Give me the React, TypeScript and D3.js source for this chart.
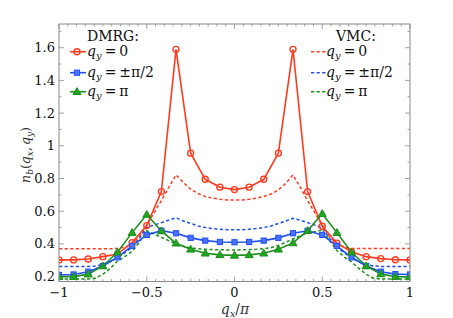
import * as d3 from 'd3'

// DMRG momentum grid (q_x / pi)
const qxDmrg = [
  -1, -0.9167, -0.8333, -0.75, -0.6667, -0.5833, -0.5, -0.4167, -0.3333, -0.25, -0.1667, -0.0833, 0,
  0.0833, 0.1667, 0.25, 0.3333, 0.4167, 0.5, 0.5833, 0.6667, 0.75, 0.8333, 0.9167, 1,
]

const dmrgQy0 = [
  0.302, 0.302, 0.308, 0.322, 0.338, 0.408, 0.512, 0.72, 1.59, 0.955, 0.795, 0.747, 0.732,
  0.747, 0.795, 0.955, 1.59, 0.72, 0.508, 0.405, 0.352, 0.322, 0.31, 0.303, 0.302,
]
const dmrgQyHalf = [
  0.21, 0.213, 0.23, 0.265, 0.318, 0.388, 0.455, 0.481, 0.465, 0.437, 0.42, 0.412, 0.41,
  0.412, 0.42, 0.437, 0.465, 0.48, 0.455, 0.388, 0.318, 0.265, 0.23, 0.215, 0.213,
]
const dmrgQyPi = [
  0.2, 0.2, 0.215, 0.265, 0.349, 0.469, 0.58, 0.479, 0.404, 0.367, 0.343, 0.333, 0.33,
  0.333, 0.343, 0.367, 0.406, 0.481, 0.585, 0.469, 0.349, 0.265, 0.216, 0.2, 0.198,
]

// VMC curves on a finer grid (step 1/24)
const qxVmc = [
  -1, -0.9583, -0.9167, -0.875, -0.8333, -0.7917, -0.75, -0.7083, -0.6667, -0.625, -0.5833, -0.5417,
  -0.5, -0.4583, -0.4167, -0.375, -0.3333, -0.2917, -0.25, -0.2083, -0.1667, -0.125, -0.0833, -0.0417,
  0, 0.0417, 0.0833, 0.125, 0.1667, 0.2083, 0.25, 0.2917, 0.3333, 0.375, 0.4167, 0.4583,
  0.5, 0.5417, 0.5833, 0.625, 0.6667, 0.7083, 0.75, 0.7917, 0.8333, 0.875, 0.9167, 0.9583, 1,
]
const vmcQy0 = [
  0.37, 0.37, 0.37, 0.37, 0.37, 0.37, 0.37, 0.37, 0.372, 0.38, 0.4, 0.445,
  0.515, 0.59, 0.665, 0.745, 0.822, 0.775, 0.735, 0.708, 0.69, 0.68, 0.673, 0.669,
  0.668, 0.669, 0.673, 0.68, 0.69, 0.705, 0.73, 0.77, 0.822, 0.745, 0.665, 0.59,
  0.515, 0.445, 0.4, 0.38, 0.373, 0.372, 0.372, 0.372, 0.372, 0.372, 0.372, 0.372, 0.372,
]
const vmcQyHalf = [
  0.262, 0.262, 0.262, 0.262, 0.262, 0.265, 0.275, 0.29, 0.315, 0.345, 0.38, 0.435,
  0.5, 0.515, 0.53, 0.545, 0.56, 0.54, 0.525, 0.51, 0.5, 0.494, 0.49, 0.487,
  0.486, 0.487, 0.49, 0.494, 0.5, 0.51, 0.525, 0.54, 0.557, 0.545, 0.53, 0.515,
  0.498, 0.435, 0.38, 0.345, 0.315, 0.29, 0.275, 0.265, 0.262, 0.262, 0.262, 0.262, 0.262,
]
const vmcQyPi = [
  0.185, 0.185, 0.185, 0.185, 0.185, 0.19, 0.215, 0.25, 0.295, 0.322, 0.355, 0.41,
  0.48, 0.46, 0.44, 0.42, 0.4, 0.385, 0.375, 0.37, 0.367, 0.365, 0.364, 0.363,
  0.363, 0.364, 0.365, 0.367, 0.37, 0.378, 0.39, 0.41, 0.43, 0.45, 0.465, 0.475,
  0.485, 0.42, 0.36, 0.32, 0.29, 0.25, 0.215, 0.19, 0.185, 0.185, 0.185, 0.185, 0.185,
]

const xTicks = [-1, -0.5, 0, 0.5, 1]
const xTickLabels = ['\u22121', '\u22120.5', '0', '0.5', '1']
const yTicks = [0.2, 0.4, 0.6, 0.8, 1, 1.2, 1.4, 1.6]
const yTickLabels = ['0.2', '0.4', '0.6', '0.8', '1', '1.2', '1.4', '1.6']

const RED = '#ff3b1f'
const BLUE = '#2250f0'
const GREEN = '#1b8f1b'
const FRAME = '#8a8a8a'
const SERIF = { fontFamily: "'DejaVu Serif', serif" }

const W = 453
const H = 318
const plot = { left: 59, right: 410, top: 24, bottom: 281.5 }

const x = d3.scaleLinear().domain([-1, 1]).range([plot.left, plot.right])
const y = d3.scaleLinear().domain([0.17, 1.745]).range([plot.bottom, plot.top])

function linePath(xs: number[], ys: number[]) {
  const pts = xs.map((q, i) => [q, ys[i]] as [number, number])
  return d3
    .line<[number, number]>()
    .x((d) => x(d[0]))
    .y((d) => y(d[1]))(pts) as string
}

function Circle({ cx, cy }: { cx: number; cy: number }) {
  return <circle cx={cx} cy={cy} r={3} fill="none" stroke={RED} strokeWidth={1.4} />
}
function Square({ cx, cy }: { cx: number; cy: number }) {
  return (
    <rect x={cx - 2.6} y={cy - 2.6} width={5.2} height={5.2} fill="#4a72ff" stroke={BLUE} strokeWidth={1} />
  )
}
function Triangle({ cx, cy }: { cx: number; cy: number }) {
  const s = 4
  return (
    <path
      d={`M${cx},${cy - s}L${cx + s},${cy + s * 0.7}L${cx - s},${cy + s * 0.7}Z`}
      fill="#22a322"
      stroke={GREEN}
      strokeWidth={1}
    />
  )
}

function QyLabel({ x0, y0, rhs }: { x0: number; y0: number; rhs: string }) {
  return (
    <text x={x0} y={y0} style={SERIF} fontSize={14} fill="#111">
      <tspan fontStyle="italic">q</tspan>
      <tspan fontStyle="italic" fontSize={10} dy={3}>y</tspan>
      <tspan dy={-3} dx={3}>=</tspan>
      <tspan dx={3}>{rhs}</tspan>
    </text>
  )
}

export default function App() {
  const minorX = d3.range(-1, 1.0001, 0.05)
  const minorY = d3.range(0.2, 1.7001, 0.1)

  const dmrg = [
    { ys: dmrgQy0, color: RED, Marker: Circle },
    { ys: dmrgQyHalf, color: BLUE, Marker: Square },
    { ys: dmrgQyPi, color: GREEN, Marker: Triangle },
  ]
  const vmc = [
    { ys: vmcQy0, color: RED },
    { ys: vmcQyHalf, color: BLUE },
    { ys: vmcQyPi, color: GREEN },
  ]
  const legendY = [51.7, 72.7, 91.7]
  const legendRhs = ['0', '\u00b1\u03c0/2', '\u03c0']

  return (
    <svg
      width={W}
      height={H}
      viewBox={`0 0 ${W} ${H}`}
      style={{ position: 'fixed', left: 0, top: 0, background: '#fff' }}
    >
      <defs>
        <clipPath id="plotClip">
          <rect x={plot.left} y={plot.top} width={plot.right - plot.left} height={plot.bottom - plot.top} />
        </clipPath>
      </defs>

      {/* ticks */}
      <g stroke={FRAME} strokeWidth={0.8}>
        {minorX.map((t) => {
          const major = xTicks.some((m) => Math.abs(m - t) < 1e-6)
          const len = major ? 5 : 2.5
          return (
            <g key={`x${t.toFixed(2)}`}>
              <line x1={x(t)} x2={x(t)} y1={plot.bottom} y2={plot.bottom - len} />
              <line x1={x(t)} x2={x(t)} y1={plot.top} y2={plot.top + len} />
            </g>
          )
        })}
        {minorY.map((t) => {
          const major = yTicks.some((m) => Math.abs(m - t) < 1e-6)
          const len = major ? 5 : 2.5
          return (
            <g key={`y${t.toFixed(2)}`}>
              <line x1={plot.left} x2={plot.left + len} y1={y(t)} y2={y(t)} />
              <line x1={plot.right} x2={plot.right - len} y1={y(t)} y2={y(t)} />
            </g>
          )
        })}
      </g>

      <g clipPath="url(#plotClip)">
        {vmc.map((s, i) => (
          <path
            key={`v${i}`}
            d={linePath(qxVmc, s.ys)}
            fill="none"
            stroke={s.color}
            strokeWidth={1.5}
            strokeDasharray="3.2,2.4"
          />
        ))}
        {dmrg.map((s, i) => (
          <path key={`d${i}`} d={linePath(qxDmrg, s.ys)} fill="none" stroke={s.color} strokeWidth={1.6} />
        ))}
        {dmrg.map((s, i) => (
          <g key={`m${i}`}>
            {qxDmrg.map((q, j) => (
              <s.Marker key={j} cx={x(q)} cy={y(s.ys[j])} />
            ))}
          </g>
        ))}
      </g>

      <rect
        x={plot.left}
        y={plot.top}
        width={plot.right - plot.left}
        height={plot.bottom - plot.top}
        fill="none"
        stroke={FRAME}
        strokeWidth={1}
      />

      {/* tick labels */}
      <g style={SERIF} fontSize={13} fill="#111">
        {xTicks.map((t, i) => (
          <text key={t} x={x(t)} y={297} textAnchor="middle">
            {xTickLabels[i]}
          </text>
        ))}
        {yTicks.map((t, i) => (
          <text key={t} x={55} y={y(t) + 4.5} textAnchor="end">
            {yTickLabels[i]}
          </text>
        ))}
      </g>

      {/* axis titles */}
      <text x={235} y={314} textAnchor="middle" style={SERIF} fontSize={14} fill="#333">
        <tspan fontStyle="italic">q</tspan>
        <tspan fontStyle="italic" fontSize={10} dy={3}>x</tspan>
        <tspan dy={-3}>/</tspan>
        <tspan fontStyle="italic">{'\u03c0'}</tspan>
      </text>
      <text
        transform="translate(30 155) rotate(-90)"
        textAnchor="middle"
        style={SERIF}
        fontSize={12.5}
        fill="#333"
      >
        <tspan fontStyle="italic">n</tspan>
        <tspan fontStyle="italic" fontSize={9} dy={2.5}>b</tspan>
        <tspan dy={-2.5}>(</tspan>
        <tspan fontStyle="italic">q</tspan>
        <tspan fontStyle="italic" fontSize={9} dy={2.5}>x</tspan>
        <tspan dy={-2.5}>,</tspan>
        <tspan fontStyle="italic" dx={2}>q</tspan>
        <tspan fontStyle="italic" fontSize={9} dy={2.5}>y</tspan>
        <tspan dy={-2.5}>)</tspan>
      </text>

      {/* DMRG legend */}
      <text x={87} y={40.5} style={SERIF} fontSize={14} fill="#111">
        DMRG:
      </text>
      {dmrg.map((s, i) => (
        <g key={`ld${i}`}>
          <line x1={70} x2={86} y1={legendY[i]} y2={legendY[i]} stroke={s.color} strokeWidth={1.6} />
          <s.Marker cx={77} cy={legendY[i]} />
          <QyLabel x0={87} y0={legendY[i] + 4} rhs={legendRhs[i]} />
        </g>
      ))}

      {/* VMC legend */}
      <text x={336} y={40.5} style={SERIF} fontSize={14} fill="#111">
        VMC:
      </text>
      {vmc.map((s, i) => (
        <g key={`lv${i}`}>
          <line
            x1={311}
            x2={326}
            y1={legendY[i]}
            y2={legendY[i]}
            stroke={s.color}
            strokeWidth={1.5}
            strokeDasharray="3.2,2.4"
          />
          <QyLabel x0={326} y0={legendY[i] + 4} rhs={legendRhs[i]} />
        </g>
      ))}
    </svg>
  )
}
